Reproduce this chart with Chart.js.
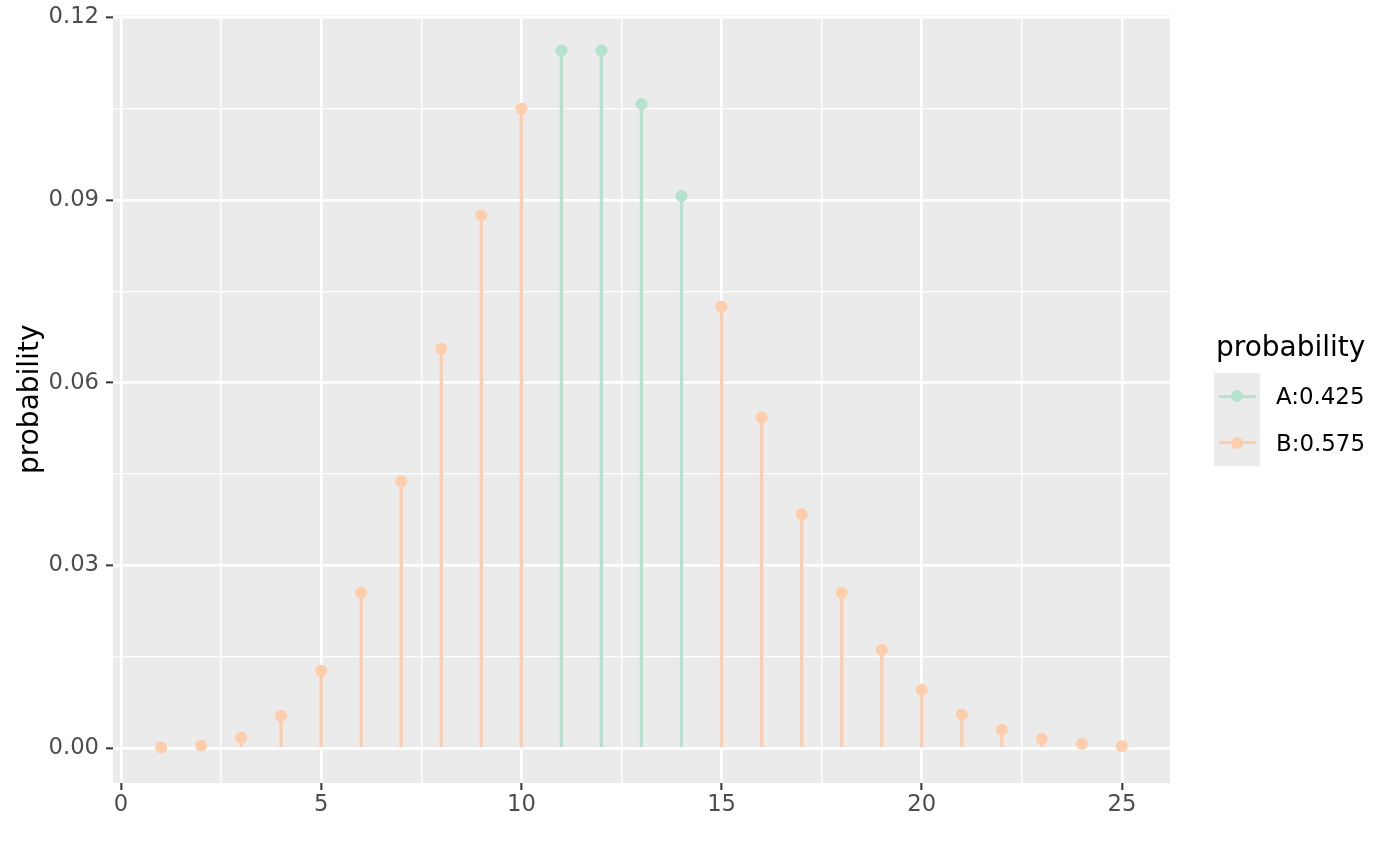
<!DOCTYPE html>
<html lang="en">
<head>
<meta charset="UTF-8">
<title>probability</title>
<script src="https://cdn.jsdelivr.net/npm/chart.js"></script>
<style>
    body { margin: 0; background: #fff; font-family: "DejaVu Sans", sans-serif; }
    #wrap { position: relative; width: 1400px; height: 866px; }
    #legend { position: absolute; left: 1214px; top: 332.6px; color: #000; }
    #legend .title { font-size: 28px; line-height: 28px; margin-left: 2px; height: 40.4px; white-space: nowrap; }
    #legend .row { display: flex; align-items: center; height: 46.5px; }
    #legend .key { position: relative; width: 46px; height: 46.5px; background: #EBEBEB; flex: none; }
    #legend .key .ln { position: absolute; left: 5px; width: 37px; top: 21.9px; height: 2.7px; }
    #legend .key .pt { position: absolute; left: 17px; top: 17.25px; width: 12px; height: 12px; border-radius: 50%; }
    #legend .lbl { font-size: 22.9px; margin-left: 16px; white-space: nowrap; }
</style>
</head>
<body>
<div id="wrap">
    <canvas id="chart"></canvas>
    <div id="legend"></div>
</div>

<script>
    // data
    const xValues = [1, 2, 3, 4, 5, 6, 7, 8, 9, 10, 11, 12, 13, 14, 15, 16, 17, 18, 19, 20, 21, 22, 23, 24, 25];
    const probValues = [0.0001, 0.0004, 0.0017, 0.0053, 0.0127, 0.0255, 0.0438, 0.0656, 0.0875, 0.1050,
                        0.1146, 0.1146, 0.1058, 0.0907, 0.0725, 0.0543, 0.0384, 0.0255, 0.0161, 0.0096,
                        0.0055, 0.0030, 0.0015, 0.0007, 0.0003];
    const groupValues = ["B", "B", "B", "B", "B", "B", "B", "B", "B", "B",
                         "A", "A", "A", "A", "B", "B", "B", "B", "B", "B",
                         "B", "B", "B", "B", "B"];
    const groupNames = ["A", "B"];
    const groupLabels = ["A:0.425", "B:0.575"];
    const groupColors = ["#B3E2CD", "#FDCDAC"];

    const xMajorTicks = [0, 5, 10, 15, 20, 25];
    const xMinorTicks = [2.5, 7.5, 12.5, 17.5, 22.5];
    const yMajorTicks = [0, 0.03, 0.06, 0.09, 0.12];
    const yMajorLabels = ["0.00", "0.03", "0.06", "0.09", "0.12"];
    const yMinorTicks = [0.015, 0.045, 0.075, 0.105];

    // ggplot style 5% expansion
    const xLo = Math.min(...xValues), xHi = Math.max(...xValues);
    const yLo = 0, yHi = Math.max(...probValues);
    const xPad = (xHi - xLo) * 0.05, yPad = (yHi - yLo) * 0.05;

    const isIn = (list, v) => v !== undefined && list.some(t => Math.abs(t - v) < 1e-9);
    const tickList = (major, minor) => major.concat(minor).sort((a, b) => a - b).map(v => ({ value: v }));

    function pointsFor(name) {
        return xValues.map((x, i) => ({ x: x, y: probValues[i] })).filter((p, i) => groupValues[i] === name);
    }

    const datasets = [];
    groupNames.forEach((name, g) => {
        datasets.push({
            type: "scatter", label: groupLabels[g], data: pointsFor(name), order: 1,
            pointRadius: 6, pointHoverRadius: 6, pointBorderWidth: 0,
            backgroundColor: groupColors[g], borderColor: groupColors[g]
        });
        datasets.push({
            type: "bar", label: groupLabels[g] + " stem", data: pointsFor(name), order: 2,
            barThickness: 2.7, grouped: false, borderWidth: 0,
            backgroundColor: groupColors[g]
        });
    });

    const gridLine = (major) => ({
        offset: false,
        color: "#FFFFFF",
        lineWidth: ctx => isIn(major, ctx.tick && ctx.tick.value) ? 2.7 : 1.35,
        tickColor: ctx => isIn(major, ctx.tick && ctx.tick.value) ? "#333333" : "rgba(0,0,0,0)",
        tickWidth: 2,
        tickLength: 7
    });

    // grey panel behind everything
    const panelBg = {
        id: "panelBg",
        beforeDraw(chart) {
            const { ctx, chartArea: a } = chart;
            ctx.save();
            ctx.fillStyle = "#EBEBEB";
            ctx.fillRect(a.left, a.top, a.right - a.left, a.bottom - a.top);
            ctx.restore();
        }
    };

    Chart.defaults.font.family = "DejaVu Sans";

    new Chart(document.getElementById("chart"), {
        type: "scatter",
        data: { datasets: datasets },
        options: {
            responsive: true,
            maintainAspectRatio: false,
            animation: false,
            events: [],
            layout: { padding: { top: 15.5, right: 230, left: 0, bottom: 0 } },
            plugins: { legend: { display: false }, tooltip: { enabled: false } },
            scales: {
                x: {
                    type: "linear",
                    min: xLo - xPad,
                    max: xHi + xPad,
                    offset: false,
                    border: { display: false },
                    grid: gridLine(xMajorTicks),
                    afterBuildTicks: s => { s.ticks = tickList(xMajorTicks, xMinorTicks); },
                    afterFit: s => { s.height = 83; s.paddingLeft = 0; s.paddingRight = 0; },
                    ticks: {
                        autoSkip: false, maxRotation: 0, padding: 1.5,
                        color: "#4D4D4D", font: { size: 22.7 },
                        callback: v => isIn(xMajorTicks, v) ? String(v) : ""
                    }
                },
                y: {
                    type: "linear",
                    min: yLo - yPad,
                    max: yHi + yPad,
                    border: { display: false },
                    grid: gridLine(yMajorTicks),
                    afterBuildTicks: s => { s.ticks = tickList(yMajorTicks, yMinorTicks); },
                    afterFit: s => { s.width = 113; s.paddingTop = 0; s.paddingBottom = 0; },
                    title: {
                        display: true, text: "probability", color: "#000",
                        font: { size: 28 }, padding: { top: 13.5, bottom: 0 }
                    },
                    ticks: {
                        autoSkip: false, padding: 7,
                        color: "#4D4D4D", font: { size: 22.7 },
                        callback: v => {
                            const i = yMajorTicks.findIndex(t => Math.abs(t - v) < 1e-9);
                            return i >= 0 ? yMajorLabels[i] : "";
                        }
                    }
                }
            }
        },
        plugins: [panelBg]
    });

    // legend, ggplot style
    const legend = document.getElementById("legend");
    let html = '<div class="title">probability</div>';
    groupNames.forEach((name, g) => {
        html += '<div class="row"><div class="key">' +
            '<div class="ln" style="background:' + groupColors[g] + '"></div>' +
            '<div class="pt" style="background:' + groupColors[g] + '"></div>' +
            '</div><div class="lbl">' + groupLabels[g] + '</div></div>';
    });
    legend.innerHTML = html;
</script>
</body>
</html>
